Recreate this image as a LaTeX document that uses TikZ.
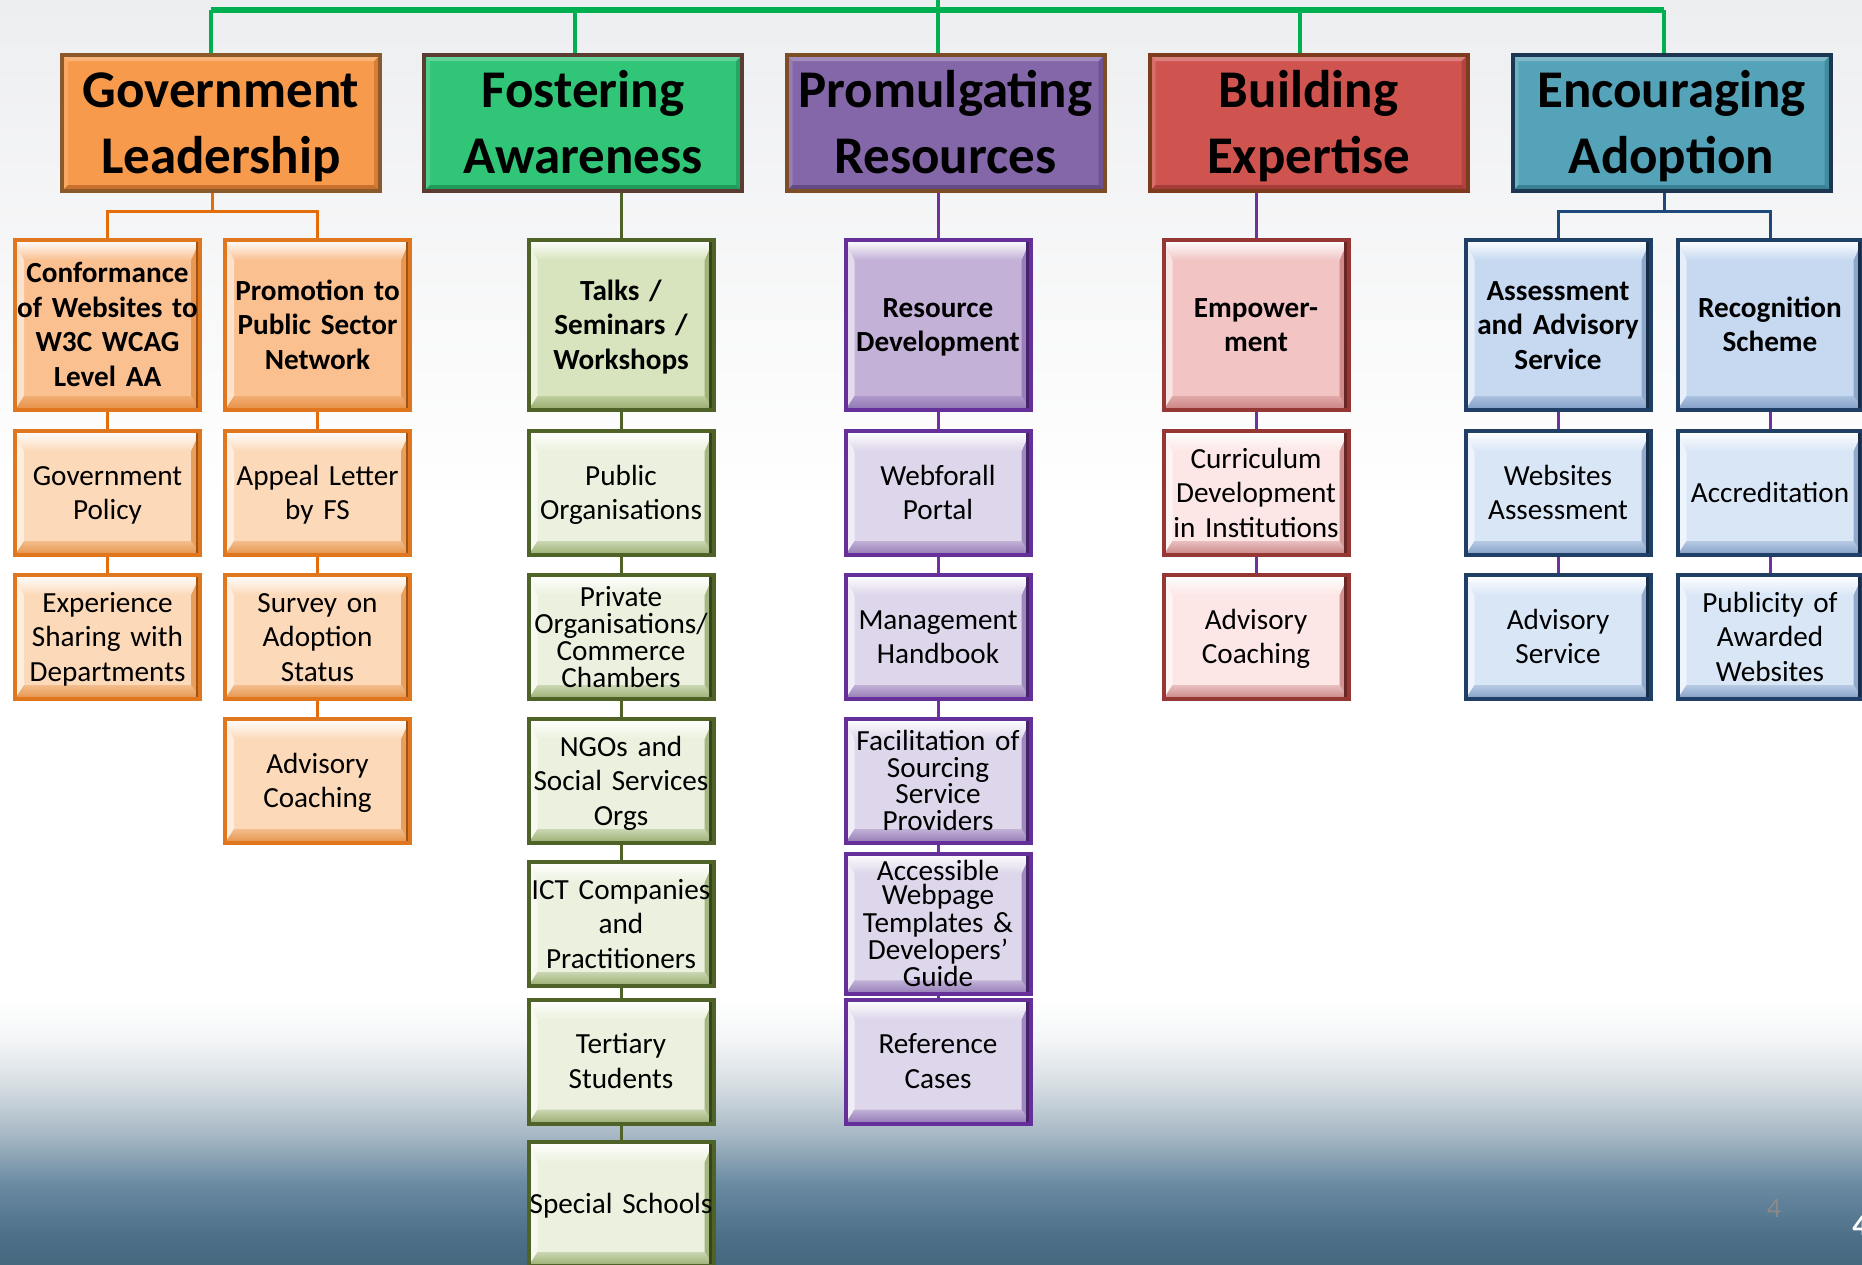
\documentclass[tikz,border=0pt]{standalone}
\usepackage{fontspec}
\setmainfont{Carlito}
\newcommand\tfnt{\fontsize{26.5pt}{33pt}\selectfont\bfseries}
\newcommand\cfnt{\fontsize{14.6pt}{17.25pt}\selectfont}
\newcommand\cbfnt{\fontsize{14.6pt}{17.25pt}\selectfont\bfseries}
\newcommand\tsp[1]{\fontsize{14.6pt}{#1}\selectfont}
\newcommand\sA{\rule{0pt}{13.6pt}}
\newcommand\sZ{\rule[-4pt]{0pt}{4pt}}
\newcommand\tA{\rule{0pt}{24pt}}
\newcommand\tZ{\rule[-7pt]{0pt}{7pt}}
% background
\definecolor{bgA}{HTML}{45687F}
\definecolor{bgB}{HTML}{4E7089}
\definecolor{bgC}{HTML}{6A8BA2}
\definecolor{bgD}{HTML}{A9BAC6}
\definecolor{bgE}{HTML}{D8DFE4}
\definecolor{bgF}{HTML}{F4F6F7}
\definecolor{bgTop}{HTML}{EDEEF0}
\pgfdeclareverticalshading{bgshade}{100bp}{color(0bp)=(bgA); color(25bp)=(bgA); color(26.2bp)=(bgB); color(28.2bp)=(bgC); color(30.2bp)=(bgD); color(32.2bp)=(bgE); color(33.9bp)=(bgF); color(35.5bp)=(white); color(55bp)=(white); color(75bp)=(bgTop); color(100bp)=(bgTop)}
% top boxes
\definecolor{glF}{HTML}{F89A4B}\definecolor{glB}{HTML}{8B5A2B}\definecolor{glD}{HTML}{C8702E}
\definecolor{faF}{HTML}{31C578}\definecolor{faB}{HTML}{5B3C33}\definecolor{faD}{HTML}{1F9A58}
\definecolor{prF}{HTML}{8467A8}\definecolor{prB}{HTML}{7D4E25}\definecolor{prD}{HTML}{634B88}
\definecolor{beF}{HTML}{CF5450}\definecolor{beB}{HTML}{7E3B1E}\definecolor{beD}{HTML}{A63C38}
\definecolor{eaF}{HTML}{55A3B8}\definecolor{eaB}{HTML}{1D3652}\definecolor{eaD}{HTML}{3A7F93}
% child boxes
\definecolor{oFa}{HTML}{FAC090}\definecolor{oFb}{HTML}{FCD9B8}\definecolor{oB}{HTML}{E0761E}\definecolor{oD}{HTML}{E38A3C}
\definecolor{gFa}{HTML}{D7E4BD}\definecolor{gFb}{HTML}{EBF1DE}\definecolor{gB}{HTML}{4F6228}\definecolor{gD}{HTML}{8FA562}
\definecolor{pFa}{HTML}{C3B1D8}\definecolor{pFb}{HTML}{DED6EA}\definecolor{pB}{HTML}{66309A}\definecolor{pD}{HTML}{8A6EB0}
\definecolor{rFa}{HTML}{F2C4C4}\definecolor{rFb}{HTML}{FDE6E6}\definecolor{rB}{HTML}{953735}\definecolor{rD}{HTML}{C47878}
\definecolor{bFa}{HTML}{C6D9F1}\definecolor{bFb}{HTML}{D9E6F6}\definecolor{bB}{HTML}{1F3F66}\definecolor{bD}{HTML}{7896C0}
% connectors
\definecolor{cGreen}{HTML}{00B050}
\definecolor{cOrange}{HTML}{E46C0A}
\definecolor{cOlive}{HTML}{4F6228}
\definecolor{cPurple}{HTML}{7030A0}
\definecolor{cNavy}{HTML}{1F497D}
\definecolor{pgGray}{HTML}{8C8986}
\pgfdeclarelayer{bglayer}
\pgfdeclarelayer{linelayer}
\pgfsetlayers{bglayer,linelayer,main}
\begin{document}
\begin{tikzpicture}[x=0.5pt,y=-0.5pt,
  bx/.style n args={3}{draw=#2, fill=#1, line width=2pt, inner sep=0pt, outer sep=0pt, align=center,
    execute at begin node=\sA, execute at end node=\sZ,
    path picture={
      \coordinate (pnw) at (path picture bounding box.north west);
      \coordinate (pne) at (path picture bounding box.north east);
      \coordinate (psw) at (path picture bounding box.south west);
      \coordinate (pse) at (path picture bounding box.south east);
      \fill[#1!45!white] (pnw) -- ([shift={(4.5pt,-10pt)}]pnw) -- ([shift={(4.5pt,7pt)}]psw) -- (psw) -- cycle;
      \fill[#3!75!#1] (pne) -- ([shift={(-4.5pt,-10pt)}]pne) -- ([shift={(-4.5pt,7pt)}]pse) -- (pse) -- cycle;
      \shade[top color=white, bottom color=#1] (pnw) -- (pne) -- ([shift={(-4.5pt,-10pt)}]pne) -- ([shift={(4.5pt,-10pt)}]pnw) -- cycle;
      \shade[top color=#3!35!#1, bottom color=#3!90!#1] (psw) -- (pse) -- ([shift={(-4.5pt,7pt)}]pse) -- ([shift={(4.5pt,7pt)}]psw) -- cycle;
      \draw[#2!70!black, line width=2.5pt] ([xshift=-1pt]pne) -- ([xshift=-1pt]pse);
    }},
  tb/.style n args={3}{draw=#2, fill=#1, line width=2pt, inner sep=0pt, outer sep=0pt, align=center,
    execute at begin node=\tA, execute at end node=\tZ,
    path picture={
      \coordinate (pnw) at (path picture bounding box.north west);
      \coordinate (pne) at (path picture bounding box.north east);
      \coordinate (psw) at (path picture bounding box.south west);
      \coordinate (pse) at (path picture bounding box.south east);
      \fill[#1!85!white] (pnw) -- ([shift={(3pt,-3pt)}]pnw) -- ([shift={(3pt,3pt)}]psw) -- (psw) -- cycle;
      \fill[#3!70!#1] (pne) -- ([shift={(-3pt,-3pt)}]pne) -- ([shift={(-3pt,3pt)}]pse) -- (pse) -- cycle;
      \fill[#1!75!white] (pnw) -- (pne) -- ([shift={(-3pt,-3pt)}]pne) -- ([shift={(3pt,-3pt)}]pnw) -- cycle;
      \fill[#3] (psw) -- (pse) -- ([shift={(-3pt,3pt)}]pse) -- ([shift={(3pt,3pt)}]psw) -- cycle;
    }},
  tbox/.style={minimum width=159pt, minimum height=68pt, text width=158pt, font=\tfnt},
  cbox/.style={minimum width=92.5pt, minimum height=62pt, text width=92pt, font=\cfnt},
  hbox/.style={minimum width=92.5pt, minimum height=85pt, text width=92pt, font=\cbfnt},
  orangeA/.style={bx={oFa}{oB}{oD}, hbox}, orangeB/.style={bx={oFb}{oB}{oD}, cbox},
  greenA/.style={bx={gFa}{gB}{gD}, hbox}, greenB/.style={bx={gFb}{gB}{gD}, cbox},
  purpA/.style={bx={pFa}{pB}{pD}, hbox}, purpB/.style={bx={pFb}{pB}{pD}, cbox},
  redA/.style={bx={rFa}{rB}{rD}, hbox}, redB/.style={bx={rFb}{rB}{rD}, cbox},
  blueA/.style={bx={bFa}{bB}{bD}, hbox}, blueB/.style={bx={bFb}{bB}{bD}, cbox},
  gbar/.style={draw=cGreen, line width=3pt},
  gdrop/.style={draw=cGreen, line width=2pt},
  conn/.style={line width=1.5pt},
]
\useasboundingbox (0,0) rectangle (1862,1264);
\begin{pgfonlayer}{bglayer}
\shade[shading=bgshade] (0,0) rectangle (1862,1264);
\end{pgfonlayer}

% top level
\node[tb={glF}{glB}{glD}, tbox] (gl) at (221,123) {Government\\Leadership};
\node[tb={faF}{faB}{faD}, tbox] (fa) at (583,123) {Fostering\\Awareness};
\node[tb={prF}{prB}{prD}, tbox] (pr) at (945.5,123) {Promulgating\\Resources};
\node[tb={beF}{beB}{beD}, tbox] (be) at (1308.5,123) {Building\\Expertise};
\node[tb={eaF}{eaB}{eaD}, tbox] (ea) at (1671.5,123) {Encouraging\\Adoption};

% Government Leadership
\node[orangeA] (c1) at (107.5,325) {Conformance\\of Websites to\\W3C WCAG\\Level AA};
\node[orangeA] (c2) at (317.5,325) {Promotion to\\Public Sector\\Network};
\node[orangeB] (a2) at (107.5,493) {Government\\Policy};
\node[orangeB] (a3) at (107.5,637) {Experience\\Sharing with\\Departments};
\node[orangeB] (b2) at (317.5,493) {Appeal Letter\\by FS};
\node[orangeB] (b3) at (317.5,637) {Survey on\\Adoption\\Status};
\node[orangeB] (b4) at (317.5,781) {Advisory\\Coaching};

% Fostering Awareness
\node[greenA] (t1) at (621,325) {Talks /\\Seminars /\\Workshops};
\node[greenB] (t2) at (621,493) {Public\\Organisations};
\node[greenB, font=\tsp{13.5pt}] (t3) at (621,637) {Private\\Organisations/\\Commerce\\Chambers};
\node[greenB] (t4) at (621,781) {NGOs and\\Social Services\\Orgs};
\node[greenB] (t5) at (621,924) {ICT Companies\\and\\Practitioners};
\node[greenB] (t6) at (621,1061.5) {Tertiary\\Students};
\node[greenB] (t7) at (621,1204) {Special Schools};

% Promulgating Resources
\node[purpA] (r1) at (938,325) {Resource\\Development};
\node[purpB] (r2) at (938,493) {Webforall\\Portal};
\node[purpB] (r3) at (938,637) {Management\\Handbook};
\node[purpB, font=\tsp{13.25pt}] (r4) at (938,781) {Facilitation of\\Sourcing\\Service\\Providers};
\node[purpB, font=\tsp{12pt}] (r5) at (938,924) {Accessible\\Webpage\\Templates \&\\Developers’\\Guide};
\node[purpB] (r6) at (938,1061.5) {Reference\\Cases};

% Building Expertise
\node[redA] (e1) at (1256,325) {Empower-\\ment};
\node[redB] (e2) at (1256,493) {Curriculum\\Development\\in Institutions};
\node[redB] (e3) at (1256,637) {Advisory\\Coaching};

% Encouraging Adoption
\node[blueA] (f1) at (1558,325) {Assessment\\and Advisory\\Service};
\node[blueB] (f2) at (1558,493) {Websites\\Assessment};
\node[blueB] (f3) at (1558,637) {Advisory\\Service};
\node[blueA] (h1) at (1770,325) {Recognition\\Scheme};
\node[blueB] (h2) at (1770,493) {Accreditation};
\node[blueB] (h3) at (1770,637) {Publicity of\\Awarded\\Websites};

% page numbers
\node[text=pgGray, font=\fontsize{14pt}{14pt}\selectfont, inner sep=0pt] (pga) at (1774,1208) {4};
\node[text=white, font=\fontsize{15pt}{15pt}\selectfont\bfseries, inner sep=0pt, anchor=west] (pgb) at (1852,1226) {4};

\begin{pgfonlayer}{linelayer}
\coordinate (root) at (938,0);
\coordinate (hub) at (938,10);
\coordinate (dgl) at (211,10);
\coordinate (dfa) at (575,10);
\coordinate (dpr) at (938,10);
\coordinate (dbe) at (1300,10);
\coordinate (dea) at (1664,10);
\draw[gbar] (dgl) -- (dea);
\draw[gdrop] (root) -- (hub);
\foreach \d/\n in {dgl/gl, dfa/fa, dpr/pr, dbe/be, dea/ea} \draw[gdrop] (\d) -- (\d |- \n.north);

% government leadership bracket
\coordinate (glj) at (212,211);
\draw[conn, cOrange] (glj |- gl.south) -- (glj);
\draw[conn, cOrange] (glj) -| (c1.north);
\draw[conn, cOrange] (glj) -| (c2.north);
\draw[conn, cOrange] (c1.south) -- (a2.north);
\draw[conn, cOrange] (a2.south) -- (a3.north);
\draw[conn, cOrange] (c2.south) -- (b2.north);
\draw[conn, cOrange] (b2.south) -- (b3.north);
\draw[conn, cOrange] (b3.south) -- (b4.north);

% fostering awareness
\draw[conn, cOlive] (t1.north |- fa.south) -- (t1.north);
\foreach \u/\v in {t1/t2, t2/t3, t3/t4, t4/t5, t5/t6, t6/t7} \draw[conn, cOlive] (\u.south) -- (\v.north);

% promulgating resources
\draw[conn, cPurple] (r1.north |- pr.south) -- (r1.north);
\foreach \u/\v in {r1/r2, r2/r3, r3/r4, r4/r5, r5/r6} \draw[conn, cPurple] (\u.south) -- (\v.north);

% building expertise
\draw[conn, cPurple] (e1.north |- be.south) -- (e1.north);
\foreach \u/\v in {e1/e2, e2/e3} \draw[conn, cPurple] (\u.south) -- (\v.north);

% encouraging adoption
\coordinate (eaj) at (1664,211);
\draw[conn, cNavy] (eaj |- ea.south) -- (eaj);
\draw[conn, cNavy] (eaj) -| (f1.north);
\draw[conn, cNavy] (eaj) -| (h1.north);
\foreach \u/\v in {f1/f2, f2/f3, h1/h2, h2/h3} \draw[conn, cPurple] (\u.south) -- (\v.north);
\end{pgfonlayer}
\end{tikzpicture}
\end{document}
